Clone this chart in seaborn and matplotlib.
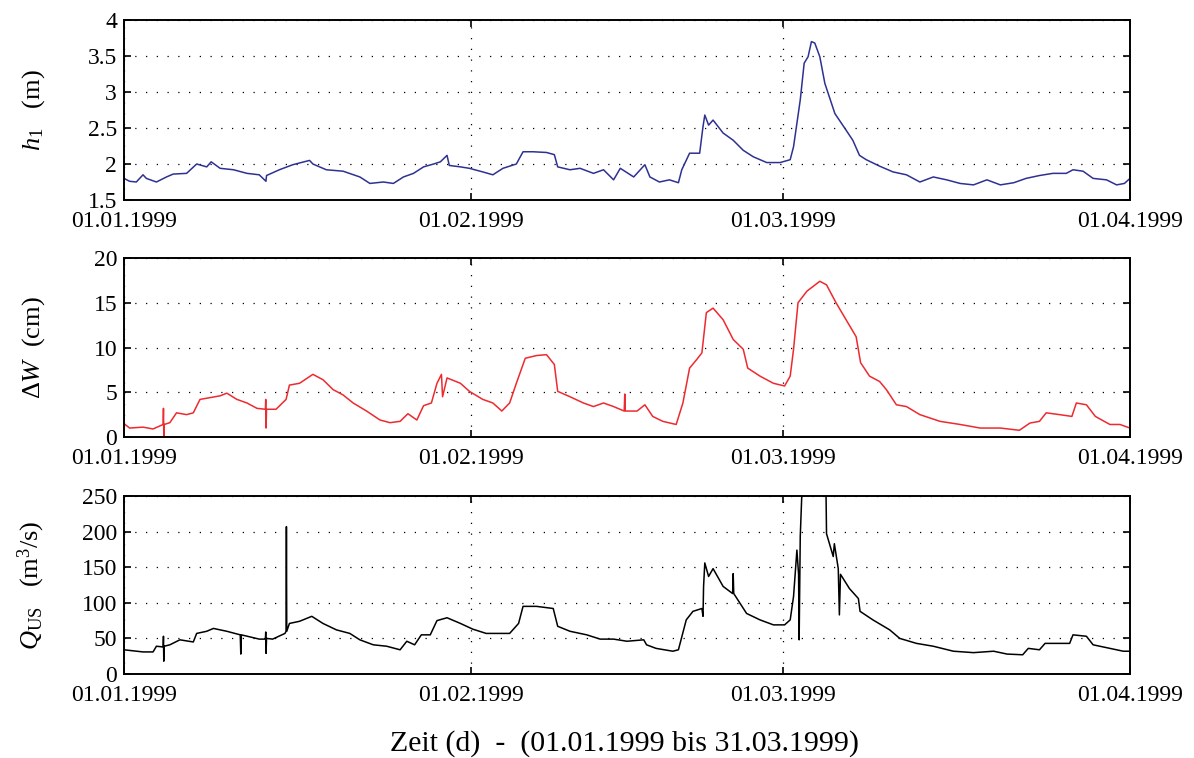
import numpy as np
import pandas as pd
import matplotlib
matplotlib.use("Agg")
import matplotlib.pyplot as plt
import matplotlib.dates as mdates
import seaborn as sns

# ---------------- data ----------------
h1_days = [0, 0.5, 1.1, 1.7, 2.0, 2.9, 3.8, 4.4, 5.6, 6.5, 7.4, 7.8, 8.6, 9.8, 11.0, 12.1, 12.7, 12.75,
           13.9, 15.1, 16.6, 16.9, 18.1, 19.6, 21.1, 22.0, 23.2, 24.1, 25.0, 25.9, 26.8, 27.7, 28.3, 28.9,
           29.1, 30.1, 30.9, 32.1, 33.0, 33.9, 35.1, 35.7, 36.6, 37.8, 38.5, 38.8, 39.9, 40.8, 42.0, 42.9,
           43.8, 44.4, 45.6, 46.6, 47.05, 47.9, 48.8, 49.6, 49.9, 50.6, 51.5, 51.8, 51.96, 52.3, 52.7, 53.6,
           54.5, 55.4, 56.3, 57.5, 58.7, 59.6, 59.9, 60.5, 60.85, 61.2, 61.5, 61.8, 62.25, 62.7, 63.6, 64.6,
           65.2, 65.8, 66.4, 67.6, 68.8, 70.0, 71.2, 72.4, 73.6, 74.8, 76.0, 77.2, 78.4, 79.6, 80.7, 81.9,
           83.1, 84.3, 84.9, 85.8, 86.7, 87.9, 88.8, 89.5, 90.0]
h1_vals = [1.80, 1.76, 1.75, 1.85, 1.80, 1.75, 1.82, 1.86, 1.87, 2.00, 1.96, 2.03, 1.94, 1.92, 1.87, 1.85,
           1.76, 1.84, 1.92, 1.99, 2.05, 2.00, 1.92, 1.90, 1.82, 1.73, 1.75, 1.73, 1.82, 1.87, 1.96, 2.00,
           2.03, 2.12, 1.98, 1.96, 1.94, 1.89, 1.85, 1.94, 2.00, 2.17, 2.17, 2.16, 2.13, 1.96, 1.92, 1.94,
           1.87, 1.92, 1.78, 1.94, 1.82, 1.99, 1.82, 1.75, 1.78, 1.74, 1.92, 2.15, 2.15, 2.52, 2.68, 2.54,
           2.61, 2.43, 2.33, 2.19, 2.10, 2.02, 2.02, 2.06, 2.24, 2.89, 3.40, 3.49, 3.70, 3.68, 3.49, 3.12,
           2.70, 2.47, 2.33, 2.12, 2.06, 1.97, 1.89, 1.85, 1.75, 1.82, 1.78, 1.73, 1.71, 1.78, 1.71, 1.74,
           1.80, 1.84, 1.87, 1.87, 1.92, 1.90, 1.80, 1.78, 1.71, 1.73, 1.80]

dw_days = [0, 0.5, 1.7, 2.6, 3.5, 3.53, 3.56, 3.6, 4.1, 4.7, 5.6, 6.2, 6.8, 7.7, 8.6, 9.2, 10.1, 11.0,
           11.9, 12.65, 12.68, 12.71, 12.75, 13.6, 14.5, 14.8, 15.7, 16.9, 17.8, 18.7, 19.6, 20.5, 21.7,
           22.9, 23.8, 24.7, 25.4, 26.2, 26.8, 27.5, 28.0, 28.4, 28.5, 28.9, 30.1, 30.9, 32.1, 33.0, 33.8,
           34.5, 35.1, 35.9, 36.9, 37.8, 38.5, 38.8, 39.9, 41.1, 42.0, 42.9, 43.8, 44.75, 44.8, 44.85, 45.9,
           46.6, 47.3, 48.2, 49.4, 50.0, 50.6, 51.2, 51.7, 52.1, 52.7, 53.6, 54.5, 55.4, 55.8, 56.9, 58.1,
           59.1, 59.6, 59.9, 60.3, 61.1, 62.25, 62.85, 63.7, 64.6, 65.5, 65.9, 66.7, 67.6, 68.2, 69.1, 70.0,
           71.2, 73.0, 74.8, 76.6, 78.4, 80.1, 81.05, 81.9, 82.5, 83.7, 84.8, 85.2, 86.1, 86.9, 88.2, 89.1,
           90.0]
dw_vals = [1.5, 1.0, 1.1, 0.9, 1.4, 3.2, 0.1, 1.4, 1.6, 2.7, 2.5, 2.7, 4.2, 4.4, 4.6, 4.9, 4.2, 3.8,
           3.2, 3.1, 4.2, 1.0, 3.1, 3.1, 4.2, 5.8, 6.0, 7.0, 6.4, 5.3, 4.7, 3.8, 2.9,
           1.9, 1.6, 1.75, 2.6, 1.9, 3.5, 3.8, 6.0, 7.0, 4.5, 6.6, 6.0, 5.1, 4.2, 3.8, 2.9,
           3.8, 6.0, 8.8, 9.1, 9.2, 8.1, 5.1, 4.5, 3.8, 3.4, 3.8, 3.4, 2.9, 4.8, 2.9, 2.9,
           3.6, 2.3, 1.75, 1.4, 3.8, 7.7, 8.6, 9.4, 13.9, 14.4, 13.1, 10.9, 9.8, 7.7, 6.8, 6.0,
           5.7, 6.8, 9.8, 15.0, 16.3, 17.4, 17.0, 15.0, 13.1, 11.2, 8.3, 6.8, 6.2, 5.3, 3.6, 3.4,
           2.5, 1.75, 1.4, 1.0, 1.0, 0.75, 1.56, 1.75, 2.7, 2.5, 2.3, 3.8, 3.6, 2.3, 1.4, 1.4,
           1.0]

q_days = [0, 1.7, 2.6, 2.9, 3.5, 3.53, 3.56, 3.6, 4.1, 5.0, 6.2, 6.5, 7.4, 8.0, 9.2, 10.4, 10.45, 10.5,
          12.1, 12.65, 12.68, 12.71, 12.75, 13.3, 14.4, 14.5, 14.53, 14.56, 14.8, 15.7, 16.8, 17.8, 19.0,
          20.2, 21.1, 22.3, 23.5, 24.7, 25.3, 26.0, 26.6, 27.4, 28.0, 28.9, 30.1, 31.2, 32.4, 34.5, 35.3,
          35.7, 36.9, 38.4, 38.8, 39.9, 41.4, 42.6, 43.8, 45.0, 46.5, 46.75, 47.6, 49.1, 49.6, 50.3, 50.9,
          51.7, 51.8, 51.85, 51.96, 52.3, 52.7, 53.6, 54.45, 54.5, 54.55, 55.7, 56.9, 58.1, 59.1, 59.6,
          59.9, 60.2, 60.35, 60.4, 60.5, 60.8, 61.5, 62.2, 62.8, 62.85, 63.45, 63.55, 63.9, 64.0, 64.1,
          64.9, 65.7, 65.85, 67.0, 68.5, 69.4, 70.9, 72.4, 74.2, 76.0, 77.8, 79.0, 80.4, 80.9, 81.9, 82.4,
          83.7, 84.6, 84.9, 86.1, 86.7, 88.2, 89.4, 90.0]
q_vals = [34, 31, 31, 39, 38, 53, 18, 39, 41, 48, 45, 57, 60, 64, 60, 55, 28, 55,
          49, 49, 59, 29, 50, 49, 57, 60, 207, 60, 71, 74, 81, 71, 62,
          57, 48, 41, 39, 34, 46, 41, 55, 55, 75, 79, 71, 63, 57, 57, 71,
          95, 95, 92, 67, 60, 55, 49, 49, 46, 48, 41, 36, 32, 34, 76, 88,
          92, 81, 123, 156, 137, 148, 123, 113, 141, 113, 85, 76, 69, 69, 76,
          109, 174, 140, 48, 193, 320, 380, 350, 260, 197, 165, 183, 148, 83, 140,
          120, 106, 88, 76, 62, 50, 43, 39, 32, 30, 32, 28, 27, 36, 34, 43,
          43, 43, 55, 53, 41, 36, 32, 32]

tick_dates = ["1999-01-01", "1999-02-01", "1999-03-01", "1999-04-01"]
h1_ticks = [1.5, 2, 2.5, 3, 3.5, 4]
dw_ticks = [0, 5, 10, 15, 20]
q_ticks = [0, 50, 100, 150, 200, 250]

# ---------------- style ----------------
sns.set_style("ticks")
plt.rcParams["font.family"] = ["Liberation Serif", "DejaVu Serif"]
plt.rcParams["mathtext.fontset"] = "custom"
plt.rcParams["mathtext.rm"] = "Liberation Serif"
plt.rcParams["mathtext.it"] = "Liberation Serif:italic"
plt.rcParams["mathtext.bf"] = "Liberation Serif:bold"
plt.rcParams["text.color"] = "black"
plt.rcParams["axes.labelcolor"] = "black"

base = pd.Timestamp("1999-01-01")


def to_dates(days):
    return base + pd.to_timedelta(np.array(days, dtype=float), unit="D")


fig = plt.figure(figsize=(11.94, 7.58), dpi=100)
W, H = 1194.0, 758.0
left, right = 124, 1130
panels = [(20, 200), (258, 437), (496, 674)]
axes = []
for top, bot in panels:
    axes.append(fig.add_axes([left / W, 1 - bot / H, (right - left) / W, (bot - top) / H]))

series = [
    (h1_days, h1_vals, "#2e3192", (1.5, 4), h1_ticks, ["1.5", "2", "2.5", "3", "3.5", "4"],
     r"$h_1$   (m)"),
    (dw_days, dw_vals, "#ed2a2f", (0, 20), dw_ticks, [str(t) for t in dw_ticks],
     r"$\Delta W$  (cm)"),
    (q_days, q_vals, "#000000", (0, 250), q_ticks, [str(t) for t in q_ticks],
     r"$Q_{\mathrm{US}}$   (m$^3$/s)"),
]

xt = pd.to_datetime(tick_dates)
for ax, (d, v, col, ylim, yt, ytl, ylab) in zip(axes, series):
    df = pd.DataFrame({"t": to_dates(d), "v": v})
    sns.lineplot(data=df, x="t", y="v", ax=ax, color=col, linewidth=1.1,
                 estimator=None, sort=False)
    ax.set_xlim(xt[0], xt[-1])
    ax.set_ylim(*ylim)
    ax.set_xticks(xt)
    ax.xaxis.set_major_formatter(mdates.DateFormatter("%d.%m.%Y"))
    ax.set_yticks(yt)
    ax.set_yticklabels(ytl)
    ax.set_xlabel("")
    ax.set_ylabel(ylab, fontsize=19, color="black")
    ax.yaxis.set_label_coords(-(124 - 47) / 1006.0, 0.5)
    ax.grid(True, color="black", linestyle=(0, (1, 7.6)), linewidth=0.9)
    ax.tick_params(direction="in", top=True, right=True, length=5, width=1.2,
                   labelsize=17, colors="black")
    ax.tick_params(axis="x", pad=8)
    ax.tick_params(axis="y", pad=5)
    for s in ax.spines.values():
        s.set_linewidth(1.4)
        s.set_color("black")
        s.set_visible(True)

fig.text(624 / W, 1 - 744 / H, "Zeit (d)  -  (01.01.1999 bis 31.03.1999)",
         ha="center", va="center", fontsize=21.5, color="black")

fig.savefig("out.png", dpi=100)
